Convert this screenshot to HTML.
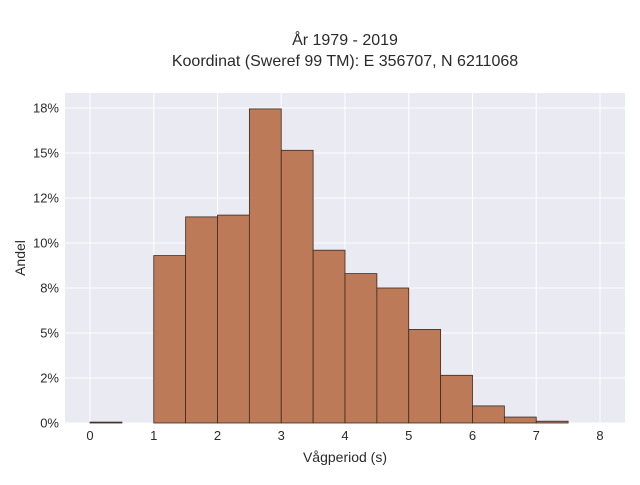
<!DOCTYPE html>
<html><head><meta charset="utf-8"><style>
body{margin:0;background:#fff;font-family:"Liberation Sans",sans-serif;}
svg text{font-family:"Liberation Sans",sans-serif;fill:#2a2a2a;}
</style></head><body>
<svg id="chart" width="640" height="480" xmlns="http://www.w3.org/2000/svg">
<text x="345" y="45" text-anchor="middle" font-size="16">År 1979 - 2019</text>
<text x="345" y="66" text-anchor="middle" font-size="16">Koordinat (Sweref 99 TM): E 356707, N 6211068</text>
<rect x="65" y="93" width="560" height="330" fill="#eaeaf2"/>
<g id="grid"></g><g id="bars"></g><g id="ticks"></g>
<text x="345" y="462" text-anchor="middle" font-size="14">Vågperiod (s)</text>
<text transform="translate(25,258) rotate(-90)" text-anchor="middle" font-size="14">Andel</text>
</svg>
<script>
const binStarts=[0,1,1.5,2,2.5,3,3.5,4,4.5,5,5.5,6,6.5,7];
const binValues=[0.05,9.3,11.45,11.55,17.45,15.15,9.6,8.3,7.5,5.2,2.65,0.95,0.33,0.1];
const binWidth=0.5;
const xTicks=[0,1,2,3,4,5,6,7,8];
const yTicks=[0,2.5,5,7.5,10,12.5,15,17.5];
const yTickLabels=["0%","2%","5%","8%","10%","12%","15%","18%"];
const NS="http://www.w3.org/2000/svg";
const X=v=>90+v*63.75, Y=v=>423-v*18;
const grid=document.getElementById('grid'),bars=document.getElementById('bars'),ticks=document.getElementById('ticks');
function mk(t,a,p){const e=document.createElementNS(NS,t);for(const k in a)e.setAttribute(k,a[k]);p.appendChild(e);return e;}
xTicks.forEach(v=>{
 const l=mk('line',{x1:X(v),x2:X(v),y1:93,y2:423,stroke:'#fff','stroke-width':1},grid);
 
 
 const t=mk('text',{x:X(v),y:440,'text-anchor':'middle','font-size':13},ticks);
 
 
 t.textContent=v;
});
yTicks.forEach((v,i)=>{
 const l=mk('line',{x1:65,x2:625,y1:Y(v),y2:Y(v),stroke:'#fff','stroke-width':1},grid);
 
 
 const t=mk('text',{x:59,y:Y(v)+4.5,'text-anchor':'end','font-size':13},ticks);
 
 
 t.textContent=yTickLabels[i];
});
binStarts.forEach((s,i)=>{
 const r=mk('rect',{x:X(s),y:Y(binValues[i]),width:X(s+binWidth)-X(s),height:Y(0)-Y(binValues[i]),fill:'#bc7a58',stroke:'#3a2a20','stroke-width':0.8},bars);
 
 
});
</script>
</body></html>
